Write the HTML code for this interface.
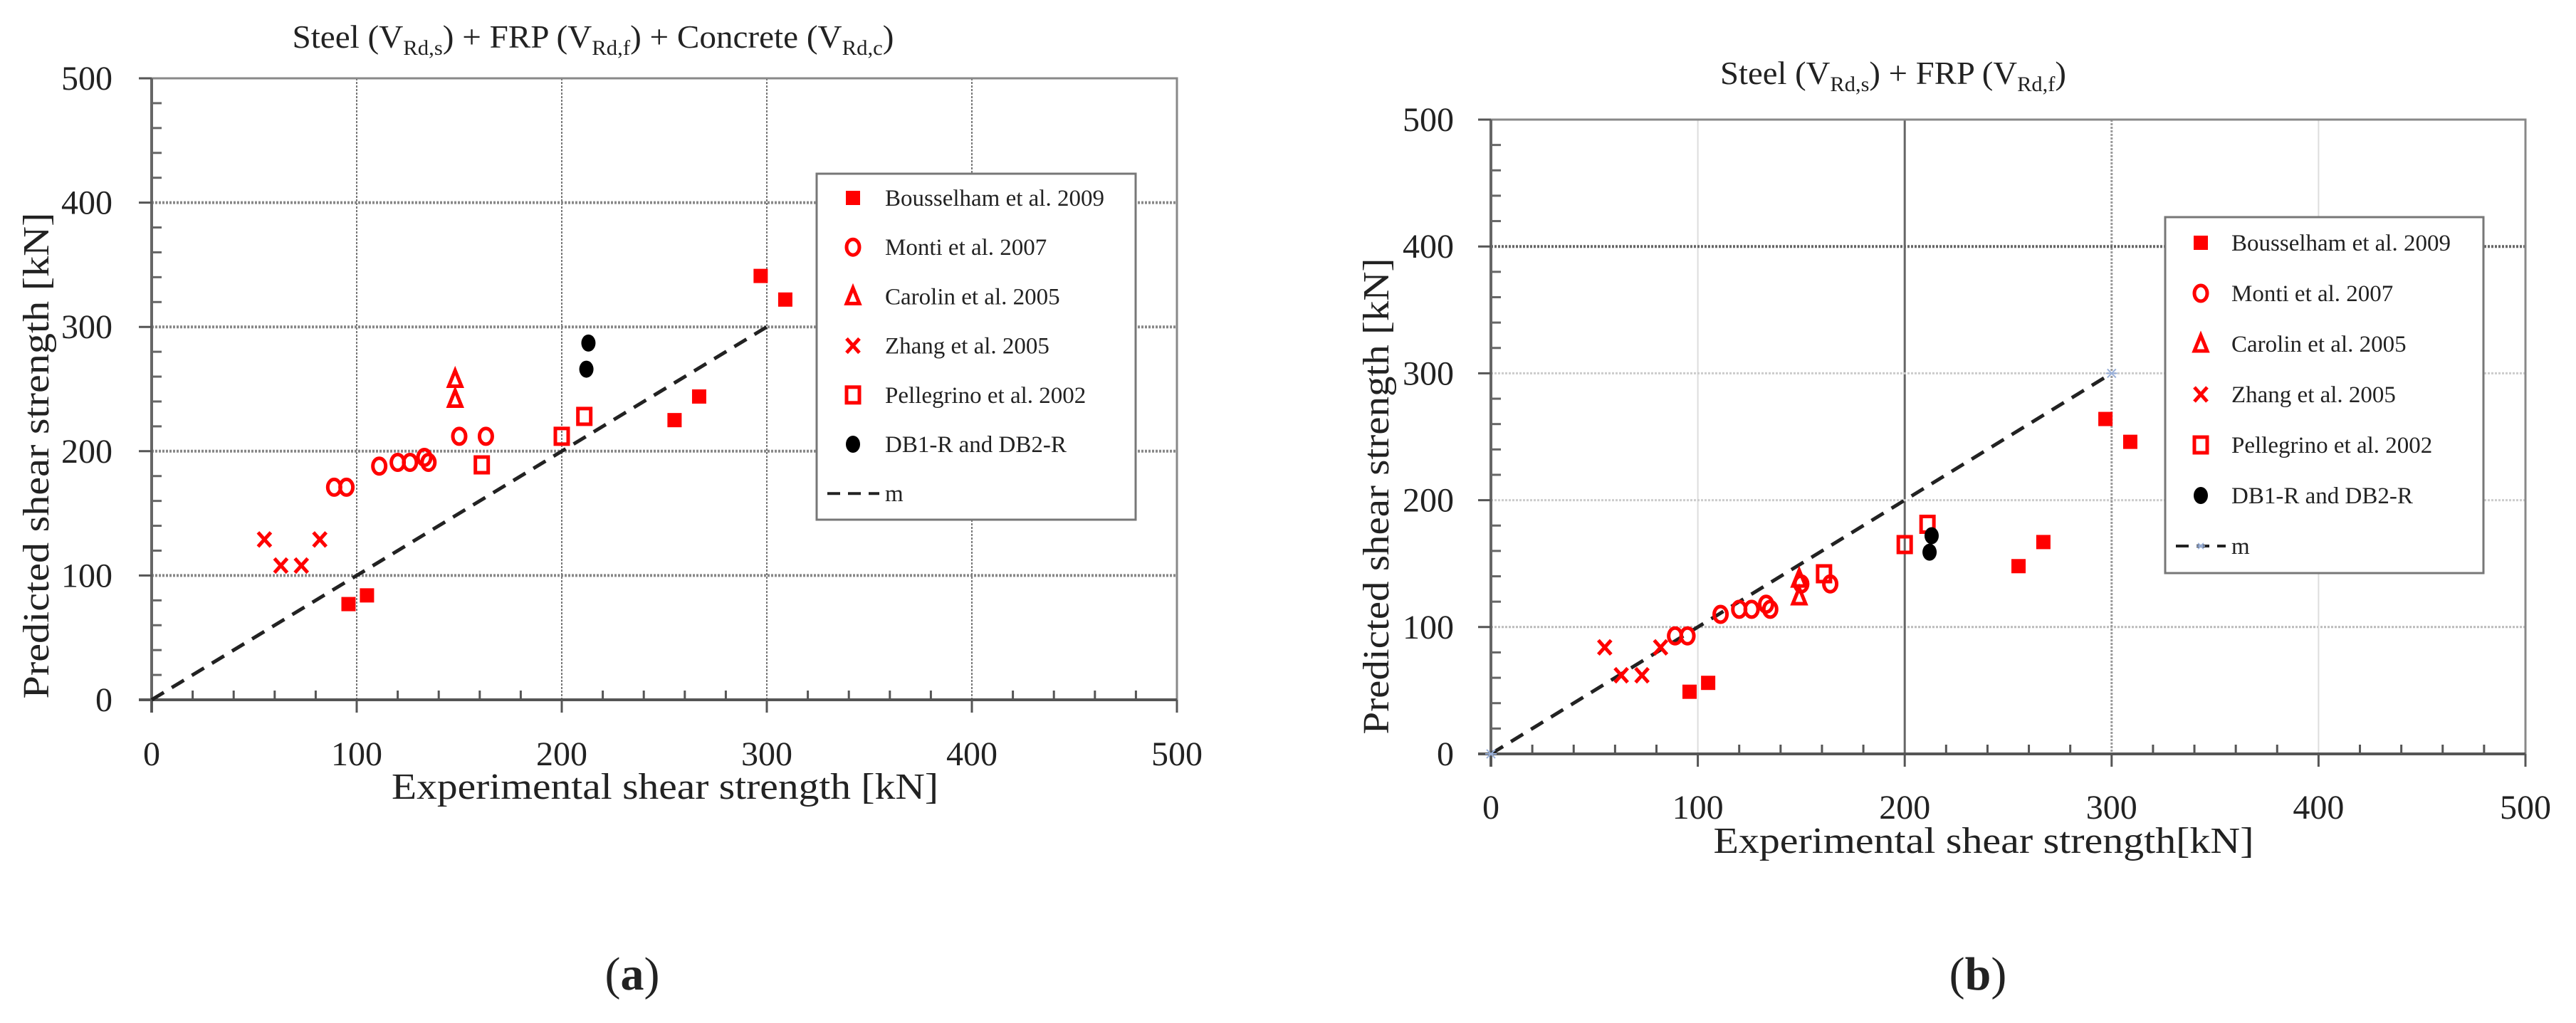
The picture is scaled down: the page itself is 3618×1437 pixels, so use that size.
<!DOCTYPE html>
<html><head><meta charset="utf-8"><style>
html,body{margin:0;padding:0;background:#fff}
svg{display:block}
text{font-family:"Liberation Serif",serif;fill:#222}
</style></head>
<body>
<svg id="root" width="3618" height="1437" viewBox="0 0 3618 1437" xmlns="http://www.w3.org/2000/svg">
<g id="chartA"></g>
<g id="chartB"></g>
</svg>
<script>
// ---- data (panel a: Steel + FRP + Concrete) ----
const bousA_x=[96,105,297,309,255,267];
const bousA_y=[77,84,341,322,225,244];
const montiA_x=[89,95,111,120,126,133,135,150,163];
const montiA_y=[171,171,188,191,191,195,191,212,212];
const carolinA_x=[148,148];
const carolinA_y=[258,242];
const zhangA_x=[55,63,73,82];
const zhangA_y=[129,108,108,129];
const pellA_x=[161,200,211];
const pellA_y=[189,212,228];
const dbA_x=[213,212];
const dbA_y=[287,266];
// ---- data (panel b: Steel + FRP) ----
const bousB_x=[96,105,297,309,255,267];
const bousB_y=[49,56,264,246,148,167];
const montiB_x=[89,95,111,120,126,133,135,150,164];
const montiB_y=[93,93,110,114,114,118,114,134,134];
const carolinB_x=[149,149];
const carolinB_y=[138,124];
const zhangB_x=[55,63,73,82];
const zhangB_y=[84,62,62,84];
const pellB_x=[161,200,211];
const pellB_y=[142,165,181];
const dbB_x=[213,212];
const dbB_y=[172,159];
const lineX=[0,300];
const lineY=[0,300];
const tickVals=[0,100,200,300,400,500];
const legendLabels=["Bousselham et al. 2009","Monti et al. 2007","Carolin et al. 2005","Zhang et al. 2005","Pellegrino et al. 2002","DB1-R and DB2-R","m"];

const NS="http://www.w3.org/2000/svg";
function mk(parent,tag,attrs,txt){const e=document.createElementNS(NS,tag);for(const k in attrs)e.setAttribute(k,attrs[k]);if(txt!==undefined)e.textContent=txt;parent.appendChild(e);return e;}

function marker(g,type,cx,cy){
  let e;
  if(type==='fsq'){e=mk(g,'rect',{x:cx-10,y:cy-10,width:20,height:20,fill:'#f00'});}
  else if(type==='circ'){e=mk(g,'ellipse',{cx:cx,cy:cy,rx:9,ry:11,fill:'none',stroke:'#f00','stroke-width':5});}
  else if(type==='tri'){e=mk(g,'polygon',{points:`${cx},${cy-12} ${cx+9},${cy+10} ${cx-9},${cy+10}`,fill:'none',stroke:'#f00','stroke-width':5});}
  else if(type==='x'){e=mk(g,'path',{d:`M${cx-9},${cy-10}L${cx+9},${cy+10}M${cx+9},${cy-10}L${cx-9},${cy+10}`,stroke:'#f00','stroke-width':5,fill:'none'});}
  else if(type==='osq'){e=mk(g,'rect',{x:cx-9,y:cy-11,width:18,height:22,fill:'none',stroke:'#f00','stroke-width':5});}
  else if(type==='dot'){e=mk(g,'ellipse',{cx:cx,cy:cy,rx:10,ry:12,fill:'#000'});}
  return e;
}

function drawChart(g,cfg,series){
  const X=v=>cfg.x0+(cfg.x1-cfg.x0)*v/500;
  const Y=v=>cfg.y0-(cfg.y0-cfg.y1)*v/500;
  // grid
  tickVals.forEach(v=>{
    if(v>0&&v<500){
      const gv=mk(g,'line',{x1:X(v),y1:cfg.y1,x2:X(v),y2:cfg.y0,stroke:cfg.vgrid[v]||'#777','stroke-width':cfg.vw[v]||2,'stroke-dasharray':cfg.vdash[v]||'3 2'});
      
      
      const gh=mk(g,'line',{x1:cfg.x0,y1:Y(v),x2:cfg.x1,y2:Y(v),stroke:cfg.hgrid[v]||'#888','stroke-width':cfg.hw[v]||4,'stroke-dasharray':cfg.hdash[v]||'3 2'});
      
      
    }
  });
  // frame
  const fr=mk(g,'rect',{x:cfg.x0,y:cfg.y1,width:cfg.x1-cfg.x0,height:cfg.y0-cfg.y1,fill:'none',stroke:'#888','stroke-width':3});
  
  
  // axes
  mk(g,'line',{x1:cfg.x0-18,y1:cfg.y0,x2:cfg.x1,y2:cfg.y0,stroke:'#555','stroke-width':4});
  mk(g,'line',{x1:cfg.x0,y1:cfg.y1,x2:cfg.x0,y2:cfg.y0+18,stroke:'#666','stroke-width':4});
  // minor ticks
  for(let v=0;v<=500;v+=20){
    mk(g,'line',{x1:X(v),y1:cfg.y0,x2:X(v),y2:cfg.y0-(v%100===0?0:13),stroke:'#555','stroke-width':3});
    mk(g,'line',{x1:cfg.x0,y1:Y(v),x2:cfg.x0+(v%100===0?0:14),y2:Y(v),stroke:'#666','stroke-width':3});
  }
  tickVals.forEach(v=>{
    mk(g,'line',{x1:cfg.x0-18,y1:Y(v),x2:cfg.x0,y2:Y(v),stroke:'#555','stroke-width':3});
    mk(g,'line',{x1:X(v),y1:cfg.y0,x2:X(v),y2:cfg.y0+18,stroke:'#555','stroke-width':3});
    const tx=mk(g,'text',{x:X(v),y:cfg.xlabY,'font-size':48,'text-anchor':'middle'},String(v));
    
    
    const ty=mk(g,'text',{x:cfg.ylabX,y:Y(v)+16,'font-size':48,'text-anchor':'end'},String(v));
    
    
  });
  // 1:1 line
  const ln=mk(g,'line',{x1:X(lineX[0]),y1:Y(lineY[0]),x2:X(lineX[1]),y2:Y(lineY[1]),stroke:'#222','stroke-width':5,'stroke-dasharray':'20 13'});
  
  
  if(cfg.stars){for(let i=0;i<2;i++){const sx=X(lineX[i]),sy=Y(lineY[i]);
    mk(g,'path',{d:`M${sx-8},${sy}L${sx+8},${sy}M${sx-6},${sy-6}L${sx+6},${sy+6}M${sx+6},${sy-6}L${sx-6},${sy+6}`,stroke:'#9ab0d8','stroke-width':2});}}
  // series
  series.forEach(s=>{
    const sg=mk(g,'g',{});
    
    
    s.xs.forEach((xv,i)=>{
      const m=marker(sg,s.type,X(xv),Y(s.ys[i]));
      
      
    });
  });
  // legend
  const L=cfg.leg;
  const lg=mk(g,'g',{});
  
  
  mk(lg,'rect',{x:L.x,y:L.y,width:L.w,height:L.h,fill:'#fff',stroke:'#777','stroke-width':3});
  const types=['fsq','circ','tri','x','osq','dot'];
  legendLabels.forEach((lab,i)=>{
    const cy=L.iy+L.dy*i;
    if(i<6){marker(lg,types[i],L.mx,cy);}
    else{
      mk(lg,'line',{x1:L.x+15,y1:cy,x2:L.tx-8,y2:cy,stroke:'#222','stroke-width':4,'stroke-dasharray':'18 11'});
      if(cfg.stars){mk(lg,'path',{d:`M${L.mx-6},${cy}L${L.mx+6},${cy}M${L.mx-4},${cy-4}L${L.mx+4},${cy+4}M${L.mx+4},${cy-4}L${L.mx-4},${cy+4}`,stroke:'#9ab0d8','stroke-width':2});}
    }
    const t=mk(lg,'text',{x:L.tx,y:cy+11,'font-size':33},lab);
    
    
  });
  // axis titles
  const xt=mk(g,'text',{x:cfg.xtX,y:cfg.xtY,'font-size':52,'text-anchor':'middle',textLength:cfg.xtW,lengthAdjust:'spacingAndGlyphs'},cfg.xtitle);
  
  
  const yt=mk(g,'text',{x:0,y:0,'font-size':52,'text-anchor':'middle',textLength:cfg.ytW,lengthAdjust:'spacingAndGlyphs',transform:`translate(${cfg.ytX},${cfg.ytY}) rotate(-90)`},'Predicted shear strength [kN]');
  
  
}

const seriesA=[
 {name:'bousselham',type:'fsq',xs:bousA_x,ys:bousA_y},
 {name:'monti',type:'circ',xs:montiA_x,ys:montiA_y},
 {name:'carolin',type:'tri',xs:carolinA_x,ys:carolinA_y},
 {name:'zhang',type:'x',xs:zhangA_x,ys:zhangA_y},
 {name:'pellegrino',type:'osq',xs:pellA_x,ys:pellA_y},
 {name:'db-specimens',type:'dot',xs:dbA_x,ys:dbA_y}];
const seriesB=[
 {name:'bousselham',type:'fsq',xs:bousB_x,ys:bousB_y},
 {name:'monti',type:'circ',xs:montiB_x,ys:montiB_y},
 {name:'carolin',type:'tri',xs:carolinB_x,ys:carolinB_y},
 {name:'zhang',type:'x',xs:zhangB_x,ys:zhangB_y},
 {name:'pellegrino',type:'osq',xs:pellB_x,ys:pellB_y},
 {name:'db-specimens',type:'dot',xs:dbB_x,ys:dbB_y}];

drawChart(document.getElementById('chartA'),{
  x0:213,x1:1653,y0:983,y1:110,xlabY:1075,ylabX:158,
  vgrid:{},vw:{},vdash:{},hgrid:{},hw:{},hdash:{},
  leg:{x:1147,y:244,w:448,h:486,iy:278,dy:69.2,mx:1198,tx:1243},
  xtitle:'Experimental shear  strength [kN]',xtX:934,xtY:1122,xtW:768,
  ytX:68,ytY:640,ytW:683,stars:false},seriesA);

drawChart(document.getElementById('chartB'),{
  x0:2094,x1:3547,y0:1059,y1:168,xlabY:1150,ylabX:2042,
  vgrid:{100:'#ddd',200:'#666',300:'#999',400:'#ddd'},vw:{100:2,200:3,300:3,400:2},vdash:{100:'none',200:'none',300:'3 2',400:'none'},
  hgrid:{100:'#bbb',200:'#ccc',300:'#ccc',400:'#666'},hw:{100:3,200:3,300:3,400:4},hdash:{100:'3 2',200:'3 2',300:'3 2',400:'3 2'},
  leg:{x:3041,y:305,w:447,h:500,iy:341,dy:71,mx:3091,tx:3134},
  xtitle:'Experimental shear  strength[kN]',xtX:2786,xtY:1198,xtW:759,
  ytX:1950,ytY:697,ytW:669,stars:true},seriesB);

// titles and panel labels
const root=document.getElementById('root');
const t1=mk(root,'text',{x:833,y:67,'font-size':46,'text-anchor':'middle',textLength:845,lengthAdjust:'spacingAndGlyphs'});
t1.innerHTML='Steel (V<tspan font-size="30" dy="10">Rd,s</tspan><tspan dy="-10">) + FRP (V</tspan><tspan font-size="30" dy="10">Rd,f</tspan><tspan dy="-10">) + Concrete (V</tspan><tspan font-size="30" dy="10">Rd,c</tspan><tspan dy="-10">)</tspan>';


const t2=mk(root,'text',{x:2659,y:118,'font-size':46,'text-anchor':'middle',textLength:486,lengthAdjust:'spacingAndGlyphs'});
t2.innerHTML='Steel (V<tspan font-size="30" dy="10">Rd,s</tspan><tspan dy="-10">) + FRP (V</tspan><tspan font-size="30" dy="10">Rd,f</tspan><tspan dy="-10">)</tspan>';


const pa=mk(root,'text',{x:888,y:1390,'font-size':66,'text-anchor':'middle'});
pa.innerHTML='(<tspan font-weight="bold">a</tspan>)';


const pb=mk(root,'text',{x:2778,y:1390,'font-size':66,'text-anchor':'middle'});
pb.innerHTML='(<tspan font-weight="bold">b</tspan>)';


</script>
</body></html>
